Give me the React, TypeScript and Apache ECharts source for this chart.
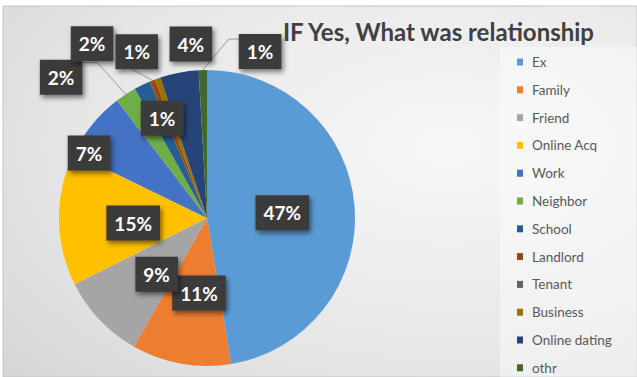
import React, { useEffect, useRef } from 'react';
import * as echarts from 'echarts';

const titleText = 'IF Yes, What was relationship';
const categories = ['Ex', 'Family', 'Friend', 'Online Acq', 'Work', 'Neighbor', 'School', 'Landlord', 'Tenant', 'Business', 'Online dating', 'othr'];
const shares = [47.4, 10.8, 9.4, 14.6, 7.4, 2.3, 1.8, 0.6, 0, 0.6, 4.2, 0.9];
const colors = ['#5B9BD5', '#ED7D31', '#A5A5A5', '#FFC000', '#4472C4', '#70AD47', '#255E91', '#9E480E', '#636363', '#997300', '#264478', '#43682B'];

// label placement style: fraction of the radius, angular shift (deg), leader-line kind
const labelRadius = [0.51, 0.51, 0.51, 0.5, 0.91, 1.37, 1.41, 1.22, 0, 0.74, 1.18, 1.18];
const labelShift = [0.7, -4, -4.6, -3.6, -10.4, -12.7, -7.5, -1.3, 0, -4.8, 5.5, 19.3];
const labelLeader = ['', '', '', '', '', 'left', '', 'down', '', '', '', 'right'];

const CX = 207;
const CY = 218;
const R = 148;

export default function App() {
  const ref = useRef<HTMLDivElement>(null);
  useEffect(() => {
    if (!ref.current) return;
    const chart = echarts.init(ref.current, undefined, { renderer: 'svg' });
    const total = shares.reduce((a, b) => a + b, 0);
    const mids: number[] = [];
    let acc = 0;
    shares.forEach((v) => {
      mids.push(((acc + v / 2) / total) * 360);
      acc += v;
    });

    const data = categories.map((name, i) => ({
      name,
      value: shares[i],
      itemStyle: { color: colors[i] },
      label: { show: labelRadius[i] > 0 },
      labelLine: { show: labelLeader[i] !== '' },
    }));

    chart.setOption({
      animation: false,
      backgroundColor: '#ffffff',
      graphic: [
        {
          type: 'rect',
          z: -10,
          shape: { x: 3, y: 6, width: 634, height: 371 },
          style: {
            fill: {
              type: 'radial',
              x: 0.7,
              y: 0.38,
              r: 1.25,
              colorStops: [
                { offset: 0, color: '#f7f7f7' },
                { offset: 0.45, color: '#e7e7e7' },
                { offset: 1, color: '#c6c6c6' },
              ],
            },
            stroke: '#c4c4c4',
            lineWidth: 1,
          },
        },
        {
          type: 'rect',
          z: -9,
          shape: { x: 500, y: 47, width: 137, height: 330 },
          style: { fill: 'rgba(255,255,255,0.4)' },
        },
      ],
      title: {
        text: titleText,
        left: 283,
        top: 18,
        padding: 0,
        textStyle: { fontFamily: 'Lato', fontWeight: 'bold', fontSize: 24, color: '#404040', lineHeight: 26 },
      },
      legend: {
        orient: 'vertical',
        left: 517,
        top: 54,
        padding: 0,
        itemWidth: 14,
        itemHeight: 7,
        itemGap: 11.8,
        icon: 'path://M0,0h6v7h-6z',
        selectedMode: false,
        textStyle: { fontFamily: 'Lato', fontSize: 13.5, color: '#595959', lineHeight: 16 },
        data: categories,
      },
      series: [
        {
          type: 'pie',
          center: [CX, CY],
          radius: R,
          startAngle: 90,
          clockwise: true,
          avoidLabelOverlap: false,
          emphasis: { disabled: true },
          itemStyle: { borderWidth: 0 },
          label: {
            position: 'outside',
            formatter: (p: any) => Math.round(p.percent) + '%',
            fontFamily: 'Lato',
            fontWeight: 'bold',
            fontSize: 19,
            lineHeight: 19,
            color: '#ffffff',
            backgroundColor: '#3b3b3b',
            padding: [8, 8],
            shadowColor: 'rgba(0,0,0,0.5)',
            shadowBlur: 5,
            shadowOffsetX: 2,
            shadowOffsetY: 3,
          },
          labelLine: { lineStyle: { color: '#9c9c9c', width: 1 } },
          labelLayout: (p: any) => {
            const i = p.dataIndex;
            if (!labelRadius[i]) return {};
            const a = ((mids[i] + labelShift[i]) * Math.PI) / 180;
            const rr = R * labelRadius[i];
            const x = CX + rr * Math.sin(a);
            const y = CY - rr * Math.cos(a);
            const w = p.labelRect.width;
            const h = p.labelRect.height;
            const res: any = { x, y, align: 'center', verticalAlign: 'middle' };
            const m = (mids[i] * Math.PI) / 180;
            const p0 = [CX + R * Math.sin(m), CY - R * Math.cos(m)];
            if (labelLeader[i] === 'left') {
              const p2 = [x + w / 2, y - h / 2 + 3];
              res.labelLinePoints = [p0, [p2[0] + 15, p2[1]], p2];
            } else if (labelLeader[i] === 'down') {
              const p2 = [x - 5, y + h / 2];
              res.labelLinePoints = [p0, [(p0[0] + p2[0]) / 2, (p0[1] + p2[1]) / 2], p2];
            } else if (labelLeader[i] === 'right') {
              const p2 = [x - w / 2, y - h / 2 + 5];
              res.labelLinePoints = [p0, [p2[0] - 10, p2[1]], p2];
            }
            return res;
          },
          data,
        },
      ],
    });
    return () => chart.dispose();
  }, []);
  return <div ref={ref} style={{ position: 'fixed', left: 0, top: 0, width: 637, height: 377 }} />;
}
